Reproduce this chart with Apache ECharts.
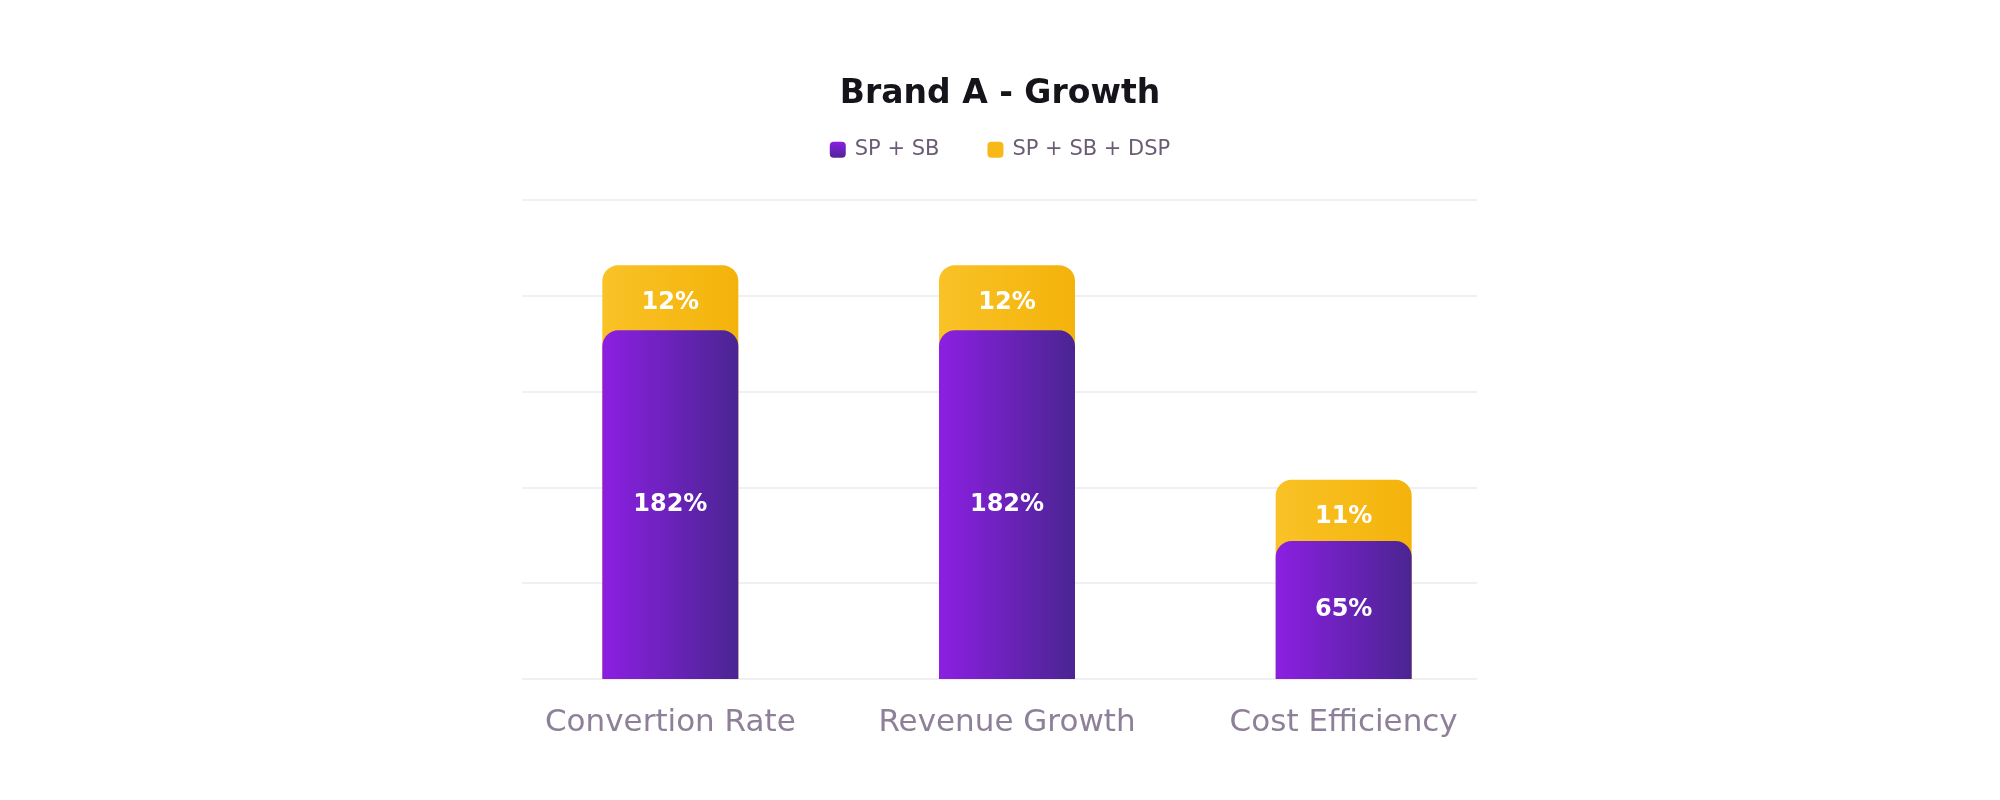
<!DOCTYPE html>
<html>

<head>
  <title>Brand A - Growth</title>
  <script src="https://cdn.jsdelivr.net/npm/echarts@6/dist/echarts.min.js"></script>
  <style>
    html, body { margin: 0; padding: 0; background: #fff; }
  </style>
</head>

<body>
  <div id="chart" style="width: 2000px;height:800px;"></div>
  <script>
    // categories and values
    const categories = ['Convertion Rate', 'Revenue Growth', 'Cost Efficiency'];
    const seriesNames = ['SP + SB', 'SP + SB + DSP'];
    // drawn bar heights (axis units, 0..250)
    const sbHeights = [182, 182, 72];
    const dspHeights = [216, 216, 104];
    // printed labels
    const sbLabels = [182, 182, 65];
    const dspLabels = [12, 12, 11];
    const yTicks = [0, 50, 100, 150, 200, 250];

    const FONT = "'DejaVu Sans', sans-serif";

    const purple = new echarts.graphic.LinearGradient(0, 0, 1, 0, [
      { offset: 0, color: '#8c1fe2' },
      { offset: 1, color: '#4a2592' }
    ]);
    const yellow = new echarts.graphic.LinearGradient(0, 0, 1, 0, [
      { offset: 0, color: '#f9c226' },
      { offset: 1, color: '#f4b30b' }
    ]);

    let myChart = echarts.init(document.getElementById('chart'));
    let option = {
      backgroundColor: '#fff',
      animation: false,
      title: {
        text: 'Brand A - Growth',
        left: 'center',
        top: 54,
        textStyle: { fontFamily: FONT, fontSize: 33, fontWeight: 'bold', color: '#16131a' }
      },
      legend: {
        top: 124,
        left: 'center',
        itemWidth: 16,
        itemHeight: 16,
        itemGap: 48,
        icon: 'roundRect',
        textStyle: { fontFamily: FONT, fontSize: 21, color: '#6b5c76', padding: [0, 0, 0, 4] },
        data: [
          {
            name: seriesNames[0],
            itemStyle: {
              color: new echarts.graphic.LinearGradient(0, 0, 0, 1, [
                { offset: 0, color: '#8c1fe2' },
                { offset: 1, color: '#4e2596' }
              ])
            }
          },
          { name: seriesNames[1], itemStyle: { color: '#f6b915' } }
        ]
      },
      grid: [
        { left: 502, right: 488, top: 200, bottom: 121 },
        { left: 522, right: 523, top: 200, bottom: 121 }
      ],
      xAxis: [
        {
          type: 'category',
          gridIndex: 0,
          data: categories,
          axisLine: { show: false },
          axisTick: { show: false },
          axisLabel: { margin: 13, fontFamily: FONT, fontSize: 31, color: '#8e8099' }
        },
        { type: 'category', gridIndex: 1, data: categories, show: false }
      ],
      yAxis: [
        {
          type: 'value', gridIndex: 0, min: yTicks[0], max: yTicks[yTicks.length - 1], interval: 50,
          axisLabel: { show: false }, axisLine: { show: false }, axisTick: { show: false },
          splitLine: { show: false }
        },
        {
          type: 'value', gridIndex: 1, min: yTicks[0], max: yTicks[yTicks.length - 1], interval: 50,
          axisLabel: { show: false }, axisLine: { show: false }, axisTick: { show: false },
          splitLine: { show: true, lineStyle: { color: '#ebebee', width: 1.5 } }
        }
      ],
      series: [
        {
          name: seriesNames[0],
          type: 'bar',
          z: 3,
          barWidth: 136,
          barGap: '-100%',
          data: sbHeights.map(function (v, i) {
            return { value: v, label: { formatter: sbLabels[i] + '%' } };
          }),
          itemStyle: { color: purple, borderRadius: [16, 16, 0, 0] },
          label: {
            show: true, position: 'inside',
            fontFamily: FONT, fontSize: 24, fontWeight: 'bold', color: '#fff'
          }
        },
        {
          name: seriesNames[1],
          type: 'bar',
          z: 2,
          barWidth: 136,
          barGap: '-100%',
          data: dspHeights.map(function (v, i) {
            return { value: v, label: { formatter: dspLabels[i] + '%' } };
          }),
          itemStyle: { color: yellow, borderRadius: [16, 16, 0, 0] },
          label: {
            show: true, position: 'insideTop', distance: 12,
            fontFamily: FONT, fontSize: 24, fontWeight: 'bold', color: '#fff'
          }
        }
      ]
    };
    myChart.setOption(option);
  </script>

</body>

</html>
